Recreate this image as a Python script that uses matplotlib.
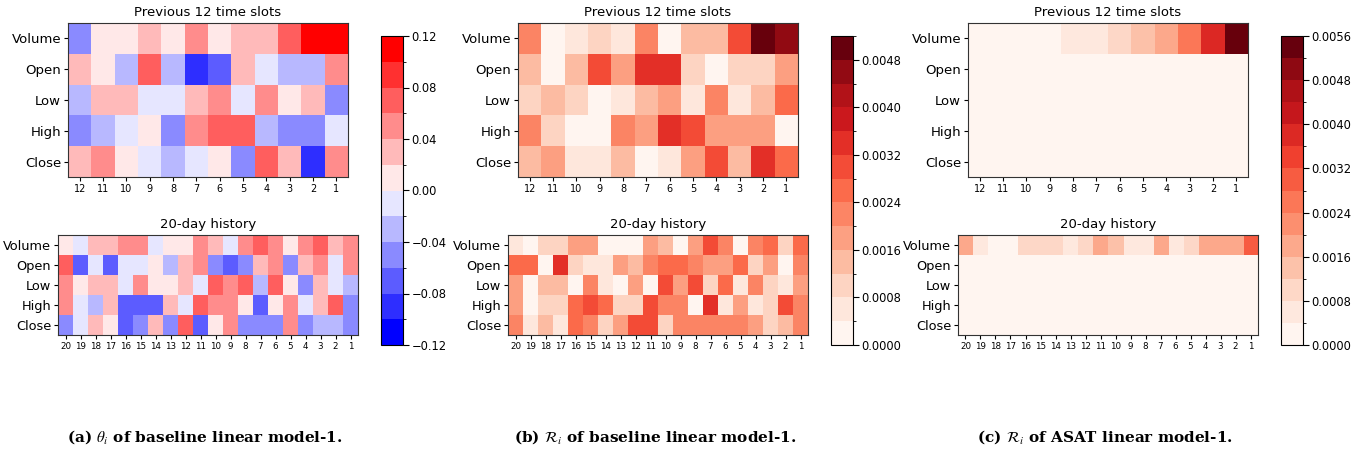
import matplotlib

matplotlib.use("Agg")
import matplotlib.pyplot as plt
import numpy as np
from matplotlib.colors import BoundaryNorm
from matplotlib.ticker import FuncFormatter

features = ["Volume", "Open", "Low", "High", "Close"]
slots_12 = [str(i) for i in range(12, 0, -1)]
days_20 = [str(i) for i in range(20, 0, -1)]

# (a) theta_i of baseline linear model-1
theta_slots = [
    [-0.05, 0.01, 0.01, 0.03, 0.01, 0.05, 0.01, 0.03, 0.03, 0.07, 0.11, 0.11],
    [0.03, 0.01, -0.03, 0.07, -0.03, -0.09, -0.07, 0.03, -0.01, -0.03, -0.03, 0.05],
    [-0.03, 0.03, 0.03, -0.01, -0.01, 0.03, 0.05, -0.01, 0.05, 0.01, 0.03, -0.05],
    [-0.05, -0.03, -0.01, 0.01, -0.05, 0.05, 0.07, 0.07, -0.03, -0.05, -0.05, -0.01],
    [0.03, 0.05, 0.01, -0.01, -0.03, -0.01, 0.01, -0.05, 0.07, 0.03, -0.09, 0.05],
]
theta_days = [
    [0.01, -0.01, 0.03, 0.03, 0.05, 0.05, -0.01, 0.01, 0.01, 0.05, 0.03, -0.01, 0.05, 0.07, 0.05, 0.01, 0.05, 0.07, 0.03, 0.05],
    [0.07, -0.07, -0.01, -0.07, -0.01, -0.01, 0.01, -0.03, 0.03, 0.05, -0.05, -0.07, -0.05, 0.03, 0.05, -0.05, 0.03, 0.05, -0.01, 0.05],
    [0.05, 0.01, 0.03, 0.03, -0.01, 0.05, 0.01, 0.01, 0.03, -0.01, 0.07, 0.05, 0.07, -0.03, 0.07, 0.01, -0.05, 0.03, -0.01, -0.03],
    [0.05, -0.01, -0.03, 0.03, -0.07, -0.07, -0.07, 0.03, -0.01, 0.07, 0.05, 0.05, 0.01, -0.07, 0.01, 0.05, -0.01, 0.03, 0.07, -0.05],
    [-0.05, -0.01, 0.03, 0.01, -0.07, -0.05, 0.03, -0.05, 0.07, -0.07, 0.01, 0.05, -0.05, -0.05, -0.05, 0.05, -0.05, -0.03, -0.03, -0.05],
]

# (b) R_i of baseline linear model-1
rel_base_slots = [
    [0.0022, 0.0002, 0.0006, 0.0010, 0.0006, 0.0022, 0.0002, 0.0014, 0.0014, 0.0030, 0.0050, 0.0046],
    [0.0014, 0.0002, 0.0014, 0.0030, 0.0018, 0.0034, 0.0034, 0.0010, 0.0002, 0.0010, 0.0010, 0.0018],
    [0.0010, 0.0014, 0.0010, 0.0002, 0.0006, 0.0014, 0.0018, 0.0006, 0.0022, 0.0006, 0.0014, 0.0026],
    [0.0022, 0.0010, 0.0002, 0.0002, 0.0022, 0.0018, 0.0034, 0.0030, 0.0018, 0.0018, 0.0018, 0.0002],
    [0.0014, 0.0018, 0.0006, 0.0006, 0.0014, 0.0002, 0.0006, 0.0018, 0.0030, 0.0014, 0.0034, 0.0026],
]
rel_base_days = [
    [0.0006, 0.0002, 0.0010, 0.0010, 0.0018, 0.0018, 0.0002, 0.0002, 0.0002, 0.0018, 0.0014, 0.0002, 0.0018, 0.0030, 0.0022, 0.0002, 0.0022, 0.0026, 0.0010, 0.0026],
    [0.0026, 0.0026, 0.0002, 0.0034, 0.0010, 0.0006, 0.0006, 0.0018, 0.0014, 0.0022, 0.0026, 0.0026, 0.0022, 0.0018, 0.0018, 0.0026, 0.0010, 0.0018, 0.0002, 0.0022],
    [0.0018, 0.0002, 0.0014, 0.0014, 0.0002, 0.0022, 0.0006, 0.0002, 0.0018, 0.0002, 0.0030, 0.0018, 0.0030, 0.0010, 0.0026, 0.0006, 0.0022, 0.0010, 0.0006, 0.0018],
    [0.0018, 0.0002, 0.0010, 0.0010, 0.0026, 0.0030, 0.0026, 0.0010, 0.0010, 0.0030, 0.0022, 0.0022, 0.0002, 0.0034, 0.0006, 0.0018, 0.0006, 0.0010, 0.0030, 0.0022],
    [0.0022, 0.0006, 0.0014, 0.0006, 0.0026, 0.0022, 0.0010, 0.0018, 0.0030, 0.0030, 0.0010, 0.0022, 0.0022, 0.0022, 0.0022, 0.0022, 0.0018, 0.0010, 0.0014, 0.0022],
]

# (c) R_i of ASAT linear model-1 (only Volume is non-zero)
rel_asat_slots = [
    [0.0002, 0.0002, 0.0002, 0.0002, 0.0006, 0.0006, 0.0010, 0.0014, 0.0018, 0.0026, 0.0038, 0.0054],
    [0.0] * 12,
    [0.0] * 12,
    [0.0] * 12,
    [0.0] * 12,
]
rel_asat_days = [
    [0.0018, 0.0006, 0.0002, 0.0002, 0.0010, 0.0010, 0.0010, 0.0006, 0.0010, 0.0018, 0.0014, 0.0006, 0.0006, 0.0018, 0.0006, 0.0010, 0.0018, 0.0018, 0.0018, 0.0030],
    [0.0] * 20,
    [0.0] * 20,
    [0.0] * 20,
    [0.0] * 20,
]

captions = [
    r"(a) $\theta_i$ of baseline linear model-1.",
    r"(b) $\mathcal{R}_i$ of baseline linear model-1.",
    r"(c) $\mathcal{R}_i$ of ASAT linear model-1.",
]

W, H = 1365, 455
plt.rcParams["font.family"] = ["DejaVu Sans"]
plt.rcParams["mathtext.fontset"] = "stix"
fig = plt.figure(figsize=(W / 100, H / 100), dpi=100)


def px(l, t, r, b):
    return [l / W, 1 - b / H, (r - l) / W, (b - t) / H]


def minus_fmt(fmt):
    return FuncFormatter(lambda v, _: (fmt % v).replace("-", "\u2212"))


panels = [
    (theta_slots, theta_days, "bwr", np.linspace(-0.12, 0.12, 13),
     np.arange(-0.12, 0.1201, 0.04), "%.2f"),
    (rel_base_slots, rel_base_days, "Reds", np.linspace(0, 0.0052, 14),
     np.arange(0, 0.00481, 0.0008), "%.4f"),
    (rel_asat_slots, rel_asat_days, "Reds", np.linspace(0, 0.0056, 15),
     np.arange(0, 0.00561, 0.0008), "%.4f"),
]
offsets = [0, 450, 900]

for (top, bot, cmap, levels, cticks, fmt), dx, cap in zip(panels, offsets, captions):
    norm = BoundaryNorm(levels, ncolors=256)

    ax1 = fig.add_axes(px(68 + dx, 23, 348 + dx, 177))
    im = ax1.imshow(np.array(top), cmap=cmap, norm=norm, aspect="auto", interpolation="nearest")
    ax1.set_title("Previous 12 time slots", fontsize=9.5, pad=5)
    ax1.set_xticks(range(12)); ax1.set_xticklabels(slots_12, fontsize=7)
    ax1.set_yticks(range(5)); ax1.set_yticklabels(features, fontsize=9.5)

    ax2 = fig.add_axes(px(58 + dx, 235, 358 + dx, 335))
    ax2.imshow(np.array(bot), cmap=cmap, norm=norm, aspect="auto", interpolation="nearest")
    ax2.set_title("20-day history", fontsize=9.5, pad=5)
    ax2.set_xticks(range(20)); ax2.set_xticklabels(days_20, fontsize=6.3)
    ax2.set_yticks(range(5)); ax2.set_yticklabels(features, fontsize=9.3)

    for ax in (ax1, ax2):
        ax.tick_params(length=3, width=0.8, pad=2)
        for s in ax.spines.values():
            s.set_color("#333333")

    cax = fig.add_axes(px(381 + dx, 36, 403 + dx, 345))
    cb = fig.colorbar(im, cax=cax, ticks=cticks, format=minus_fmt(fmt))
    cb.ax.tick_params(labelsize=8.3, length=4, width=0.8, pad=2)
    cb.outline.set_linewidth(0.8)

    fig.text((205 + dx) / W, 1 - 437 / H, cap, ha="center", va="center",
             fontsize=11, fontweight="bold", family="DejaVu Serif")

fig.savefig("out.png", dpi=100)
